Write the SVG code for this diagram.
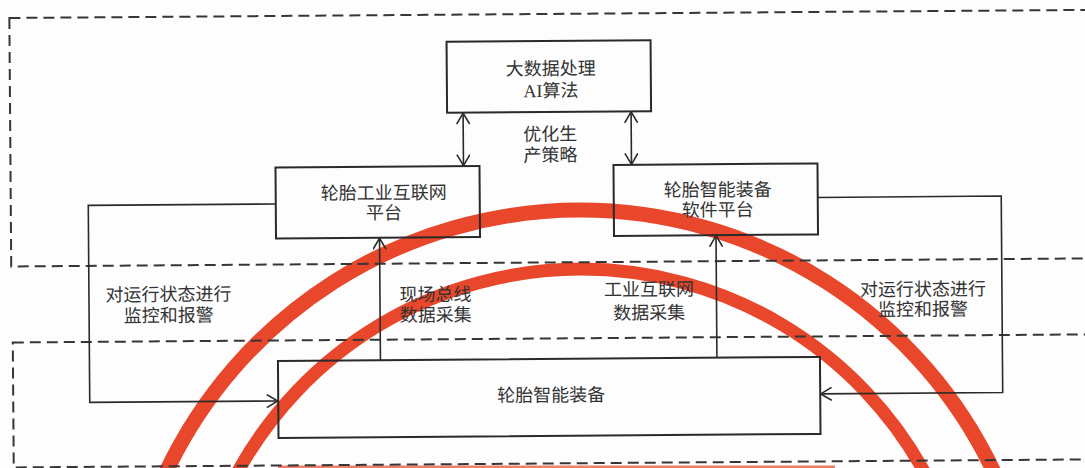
<svg xmlns="http://www.w3.org/2000/svg" width="1085" height="468" viewBox="0 0 1085 468">
<defs>
<style>
.frame{fill:none;stroke:#363636;stroke-width:2;stroke-dasharray:11 6}
.box{fill:none;stroke:#2a2a2a;stroke-width:2}
.conn{fill:none;stroke:#2a2a2a;stroke-width:1.6}
.t{font-family:"Noto Sans CJK SC","Noto Sans CJK JP",sans-serif;font-size:18px;fill:#333;text-anchor:middle}
.latin{font-family:"Liberation Serif",serif}
.stamp{fill:none;stroke:#e8472b}
</style>
<marker id="ah" viewBox="0 0 12 14" refX="12" refY="7" markerWidth="12" markerHeight="14" markerUnits="userSpaceOnUse" orient="auto-start-reverse">
<path d="M0.5,0.5 L11.5,7 L0.5,13.5" fill="none" stroke="#2a2a2a" stroke-width="1.6"/>
</marker>
</defs>
<rect x="0" y="0" width="1085" height="468" fill="#fdfdfd"/>
<g id="stamp">
<path class="stamp" stroke-width="15" d="M164.7,475 A458,458 0 0 1 995.3,475"/>
<path class="stamp" stroke-width="13" d="M236,475 A392,392 0 0 1 926,475"/>
<rect x="278" y="465.5" width="557" height="3" fill="#e8472b" opacity="0.7"/>
</g>
<g id="page" transform="rotate(-0.43 542 234)">
<g id="frames">
<rect class="frame" x="11" y="14" width="1100" height="248.5"/>
<rect class="frame" x="12" y="338.5" width="1100" height="125"/>
</g>
<g id="connectors">
<line class="conn" x1="464" y1="112" x2="464" y2="165.5" marker-start="url(#ah)" marker-end="url(#ah)"/>
<line class="conn" x1="632" y1="112" x2="632" y2="165.5" marker-start="url(#ah)" marker-end="url(#ah)"/>
<path class="conn" d="M276,202 H88.5 V399 H277" marker-end="url(#ah)"/>
<path class="conn" d="M818,199.5 H1001.5 V396 H819" marker-end="url(#ah)"/>
<line class="conn" x1="379.5" y1="359" x2="379.5" y2="236.5" marker-end="url(#ah)"/>
<line class="conn" x1="716" y1="359" x2="716" y2="236.5" marker-end="url(#ah)"/>
</g>
<g id="bigdata">
<rect class="box" x="448" y="41" width="204" height="71"/>
<text class="t"><tspan x="552" y="75">大数据处理</tspan><tspan x="552" y="97"><tspan class="latin">AI</tspan>算法</tspan></text>
</g>
<g id="platform-iiot">
<rect class="box" x="276" y="165.5" width="204" height="71"/>
<text class="t"><tspan x="384" y="198">轮胎工业互联网</tspan><tspan x="384" y="218">平台</tspan></text>
</g>
<g id="platform-software">
<rect class="box" x="614" y="165.5" width="204" height="71"/>
<text class="t"><tspan x="718" y="197.5">轮胎智能装备</tspan><tspan x="718" y="217.5">软件平台</tspan></text>
</g>
<g id="equipment">
<rect class="box" x="277" y="359" width="542" height="77"/>
<text class="t" x="550" y="401.5">轮胎智能装备</text>
</g>
<g id="labels">
<text class="t"><tspan x="551" y="140.5">优化生</tspan><tspan x="551" y="161.5">产策略</tspan></text>
<text class="t"><tspan x="168" y="298">对运行状态进行</tspan><tspan x="168" y="319">监控和报警</tspan></text>
<text class="t"><tspan x="435" y="300">现场总线</tspan><tspan x="435" y="320.5">数据采集</tspan></text>
<text class="t"><tspan x="648.5" y="296.5">工业互联网</tspan><tspan x="648.5" y="320">数据采集</tspan></text>
<text class="t"><tspan x="922.5" y="298.5">对运行状态进行</tspan><tspan x="922.5" y="318.5">监控和报警</tspan></text>
</g>
</g>
</svg>
